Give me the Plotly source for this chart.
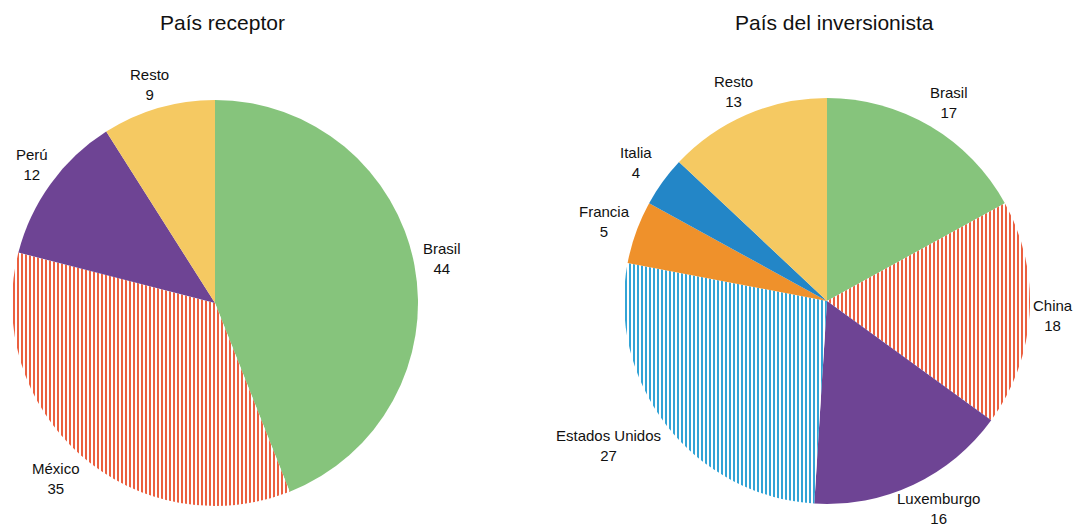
import math
import plotly.graph_objects as go

W, H = 1083, 527

left_title = "País receptor"
left_labels = ["Brasil", "México", "Perú", "Resto"]
left_values = [44, 35, 12, 9]

right_title = "País del inversionista"
right_labels = ["Brasil", "China", "Luxemburgo", "Estados Unidos", "Francia", "Italia", "Resto"]
right_values = [17, 18, 16, 27, 5, 4, 13]

GREEN, PURPLE, YELLOW = "#86C47C", "#6E4494", "#F5C962"
ORANGE, BLUE = "#EF912B", "#2386C7"
RED_LINE, CYAN_LINE = "#E94E2A", "#1B9AD2"

left_colors = [GREEN, "white", PURPLE, YELLOW]
left_shapes = ["", "|", "", ""]
left_fg = [GREEN, RED_LINE, PURPLE, YELLOW]

right_colors = [GREEN, "white", PURPLE, "white", ORANGE, BLUE, YELLOW]
right_shapes = ["", "|", "", "|", "", "", ""]
right_fg = [GREEN, RED_LINE, PURPLE, CYAN_LINE, ORANGE, BLUE, YELLOW]

# pie geometry in window pixels (center x, center y from top, radius)
pies = [
    dict(cx=215, cy=303, r=203, labels=left_labels, values=left_values,
         colors=left_colors, shapes=left_shapes, fg=left_fg, title=left_title),
    dict(cx=827, cy=301, r=203, labels=right_labels, values=right_values,
         colors=right_colors, shapes=right_shapes, fg=right_fg, title=right_title),
]

LABEL_SIZE = 15
CHAR_W = 7.8       # approximate average glyph width at LABEL_SIZE
HALF_H = 20        # half height of a two-line label
GAP = 4
MAX_CY = 510       # keep the lowest label inside the window


def px_x(x):
    return x / W


def px_y(y):
    return 1 - y / H


def k(t):
    return max(-1.0, min(1.0, 1.4 * t))


FONT = "Liberation Sans, Arial, Helvetica, sans-serif"
fig = go.Figure()
annotations = []
for p in pies:
    cx, cy, r = p["cx"], p["cy"], p["r"]
    fig.add_trace(go.Pie(
        labels=p["labels"], values=p["values"], sort=False, direction="clockwise",
        rotation=0, textinfo="none", hoverinfo="label+value", showlegend=False,
        domain=dict(x=[px_x(cx - r), px_x(cx + r)], y=[px_y(cy + r), px_y(cy - r)]),
        marker=dict(colors=p["colors"], line=dict(width=0),
                    pattern=dict(shape=p["shapes"], fgcolor=p["fg"], bgcolor="white",
                                 size=4, solidity=0.45, fillmode="replace")),
    ))
    total = sum(p["values"])
    cum = 0
    for lab, v in zip(p["labels"], p["values"]):
        mid = (cum + v / 2) / total * 2 * math.pi
        cum += v
        s, c = math.sin(mid), math.cos(mid)
        half_w = len(lab) * CHAR_W / 2
        x = cx + (r + GAP) * s + half_w * k(s)
        y = cy - (r + GAP) * c - HALF_H * k(c)
        if y > MAX_CY:
            y = MAX_CY
        annotations.append(dict(
            x=px_x(x), y=px_y(y), xref="paper", yref="paper",
            text=f"{lab}<br>{v}", showarrow=False, xanchor="center", yanchor="middle",
            align="center", font=dict(size=LABEL_SIZE, color="#111", family=FONT)))
    annotations.append(dict(
        x=px_x(cx + 7), y=px_y(22), xref="paper", yref="paper", text=p["title"],
        showarrow=False, xanchor="center", yanchor="middle",
        font=dict(size=21, color="#111", family=FONT)))

fig.update_layout(
    width=W, height=H, margin=dict(l=0, r=0, t=0, b=0),
    paper_bgcolor="white", plot_bgcolor="white",
    annotations=annotations, font=dict(family=FONT),
)
fig.write_html(
    "out.html",
    config={"displayModeBar": False},
    post_script="document.body.style.margin='0';document.body.style.overflow='hidden';",
)
